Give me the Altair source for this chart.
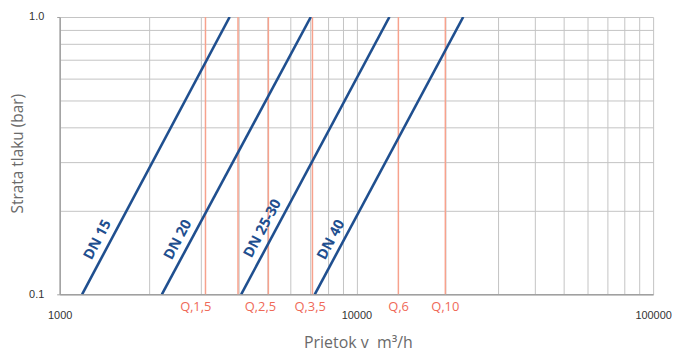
import altair as alt
import pandas as pd

# ---- data ----
series = ["DN 15", "DN 20", "DN 25-30", "DN 40"]
flow_at_low = [1190, 2210, 4090, 7240]      # flow at 0.1 bar
flow_at_high = [3740, 7020, 12920, 22910]   # flow at 1.0 bar
loss_low, loss_high = 0.1, 1.0

label_x = [1345, 2510, 4840, 8240]
label_y = [0.157, 0.157, 0.1724, 0.157]

q_line_x = [3100, 3990, 5050, 7110, 13850, 19940]
q_labels = ["Q\u201a1,5", "Q\u201a2,5", "Q\u201a3,5", "Q\u201a6", "Q\u201a10"]
q_label_x = [2876, 4750, 6987, 13880, 19940]

x_grid = [1000, 2000, 3000, 4000, 5000, 6000, 7000, 8000, 9000,
          10000, 20000, 30000, 40000, 50000, 60000, 70000, 80000, 90000, 100000]
y_grid = [0.1, 0.2, 0.3, 0.4, 0.5, 0.6, 0.7, 0.8, 0.9, 1.0]

# ---- tables ----
rows = []
for s, a, b in zip(series, flow_at_low, flow_at_high):
    rows.append({"series": s, "flow": a, "loss": loss_low})
    rows.append({"series": s, "flow": b, "loss": loss_high})
lines_df = pd.DataFrame(rows)
labels_df = pd.DataFrame({"series": series, "flow": label_x, "loss": label_y})
qline_df = pd.DataFrame({"flow": q_line_x})
qlab_df = pd.DataFrame({"label": q_labels, "flow": q_label_x})

FONT = "Open Sans"
NUMFONT = "Liberation Sans"
BLUE = "#1f4f8f"
xscale = alt.Scale(type="log", domain=[1000, 100000], nice=False)
yscale = alt.Scale(type="log", domain=[0.1, 1.0], nice=False)

x_axis = alt.Axis(
    values=x_grid, format="d", ticks=False, labelOverlap=False, labelFlush=False,
    labelExpr="(datum.value == 1000 || datum.value == 10000 || datum.value == 100000) ? datum.label : ''",
    labelPadding=15, labelFontSize=11, labelColor="#333333", labelFont=NUMFONT,
    gridColor="#c4c4c4", gridWidth=1, domainColor="#a0a0a0", domainWidth=1.5,
    title="Prietok v\u00a0 m\u00b3/h", titleFont=FONT, titleFontSize=16,
    titleFontWeight="normal", titleColor="#6a6a6a",
    titleX=300, titleY=49, titleBaseline="middle", titleAlign="center",
)
y_axis = alt.Axis(
    values=y_grid, format=".1f", labelOverlap=False, labelFlush=False,
    labelExpr="(datum.value < 0.15 || datum.value > 0.95) ? datum.label : ''",
    tickSize=3,
    tickColor={"condition": {"test": "datum.value < 0.15 || datum.value > 0.95", "value": "#a0a0a0"}, "value": "transparent"},
    labelPadding=13, labelFontSize=11, labelColor="#333333", labelFont=NUMFONT,
    gridColor="#c4c4c4", gridWidth=1, domainColor="#a0a0a0", domainWidth=1.5,
    title="Strata tlaku (bar)", titleFont=FONT, titleFontSize=15.5,
    titleFontWeight="normal", titleColor="#6a6a6a",
    titleX=-42, titleY=137, titleAngle=270, titleBaseline="middle", titleAlign="center",
)

X = alt.X("flow:Q", scale=xscale, axis=x_axis)
Y = alt.Y("loss:Q", scale=yscale, axis=y_axis)

qrules = alt.Chart(qline_df).mark_rule(color="#f7a28d", strokeWidth=1.5).encode(x=X)

lines = alt.Chart(lines_df).mark_line(color=BLUE, strokeWidth=2.6, clip=True).encode(
    x=X, y=Y, detail="series:N",
)

qtext = alt.Chart(qlab_df).mark_text(
    color="#ef6a58", fontSize=13, font=FONT, baseline="middle", align="center"
).encode(x=X, y=alt.value(292), text="label:N")

dnlabels = alt.Chart(labels_df).mark_text(
    color=BLUE, fontSize=14.5, fontWeight="bold", font=FONT, angle=298,
    baseline="middle", align="center"
).encode(x=X, y=Y, text="series:N")

chart = alt.layer(qrules, lines, dnlabels, qtext).properties(
    width=597, height=279,
    autosize=alt.AutoSizeParams(type="none"),
    padding={"left": 52, "top": 8, "right": 20, "bottom": 60},
).configure_view(stroke=None)

chart.save("out.html", embed_options={"renderer": "svg", "actions": False})
